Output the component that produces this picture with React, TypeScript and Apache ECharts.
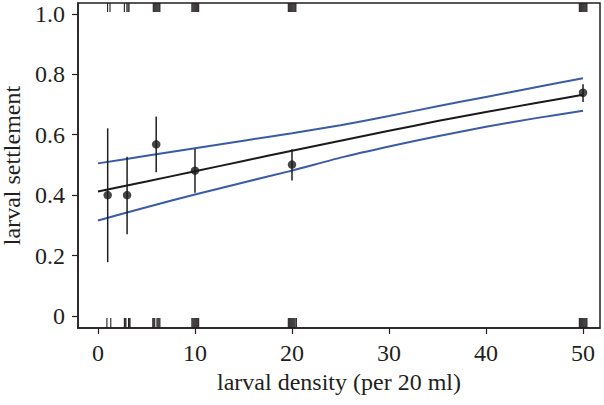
import React, { useEffect, useRef } from "react";
import * as echarts from "echarts";

// x tick labels and y tick labels
const xTicks = [0, 10, 20, 30, 40, 50];
const yTicks = [0, 0.2, 0.4, 0.6, 0.8, 1.0];

// observed means with error bars
const densities = [1, 3, 6, 10, 20, 50];
const means = [0.4, 0.4, 0.568, 0.481, 0.501, 0.739];
const errLow = [0.178, 0.27, 0.476, 0.408, 0.448, 0.708];
const errHigh = [0.621, 0.527, 0.66, 0.553, 0.552, 0.767];

// fitted curve and confidence band
const fitX = [0, 5, 10, 15, 20, 25, 30, 35, 40, 45, 50];
const fitMean = [0.412, 0.445, 0.479, 0.513, 0.547, 0.58, 0.613, 0.645, 0.675, 0.704, 0.732];
const fitUpper = [0.505, 0.53, 0.555, 0.58, 0.605, 0.631, 0.662, 0.694, 0.725, 0.756, 0.787];
const fitLower = [0.316, 0.36, 0.402, 0.442, 0.481, 0.524, 0.561, 0.595, 0.626, 0.654, 0.679];

// rug of individual (jittered) outcomes: settled (top) and not settled (bottom)
const rugSettled = [
  0.99, 1.24,
  2.72, 2.98, 3.1, 3.2,
  5.7, 5.8, 5.9, 6.0, 6.1, 6.2, 6.3, 6.38,
  9.68, 9.78, 9.88, 9.98, 10.08, 10.18, 10.28, 10.38,
  19.62, 19.72, 19.82, 19.92, 20.02, 20.12, 20.22, 20.32, 20.4,
  49.62, 49.72, 49.82, 49.92, 50.02, 50.12, 50.22, 50.32, 50.4,
];
const rugNotSettled = [
  0.92, 1.32,
  2.72, 2.8, 2.88, 3.15, 3.22, 3.3,
  5.65, 5.75, 5.85, 6.08, 6.18, 6.28, 6.38,
  9.68, 9.78, 9.88, 9.98, 10.08, 10.18, 10.28, 10.38,
  19.62, 19.72, 19.82, 19.92, 20.02, 20.12, 20.22, 20.32, 20.45,
  49.62, 49.72, 49.82, 49.92, 50.02, 50.12, 50.22, 50.32, 50.4,
];

const FONT = "'Liberation Serif', 'DejaVu Serif', serif";
const INK = "#231f20";
const BLUE = "#3b5ba6";

export default function App() {
  const ref = useRef<HTMLDivElement>(null);
  useEffect(() => {
    if (!ref.current) return;
    const chart = echarts.init(ref.current, null, { renderer: "svg" });
    const rugItem = (top: boolean) => (params: any, api: any) => {
      const p = api.coord([api.value(0), 0]);
      const cs = params.coordSys;
      const y1 = top ? cs.y : cs.y + cs.height;
      const y2 = top ? y1 + 9 : y1 - 10;
      return {
        type: "line",
        shape: { x1: p[0], y1, x2: p[0], y2 },
        style: { stroke: INK, lineWidth: 1.1 },
      };
    };
    chart.setOption({
      animation: false,
      grid: {
        left: 78,
        right: 4,
        top: 3,
        bottom: 77,
        show: true,
        borderColor: INK,
        borderWidth: 1.5,
        containLabel: false,
        outerBoundsMode: "none",
      },
      xAxis: {
        type: "value",
        min: -2.06,
        max: 51.75,
        name: "larval density (per 20 ml)",
        nameLocation: "middle",
        nameGap: 40,
        nameTextStyle: { fontFamily: FONT, fontSize: 24, color: INK },
        axisLine: { show: true, onZero: false, lineStyle: { color: INK, width: 1.5 } },
        axisTick: { show: true, length: 6, customValues: xTicks, lineStyle: { color: INK, width: 1.2 } },
        axisLabel: {
          customValues: xTicks,
          margin: 13,
          fontFamily: FONT,
          fontSize: 24,
          color: INK,
        },
        splitLine: { show: false },
      },
      yAxis: {
        type: "value",
        min: -0.04,
        max: 1.036,
        name: "larval settlement",
        nameLocation: "middle",
        nameGap: 50,
        nameTextStyle: { fontFamily: FONT, fontSize: 24, color: INK },
        axisLine: { show: true, onZero: false, lineStyle: { color: INK, width: 1.5 } },
        axisTick: { show: true, length: 6, customValues: yTicks, lineStyle: { color: INK, width: 1.2 } },
        axisLabel: {
          customValues: yTicks,
          margin: 13,
          fontFamily: FONT,
          fontSize: 24,
          color: INK,
          formatter: (v: number) => (v === 0 ? "0" : v.toFixed(1)),
        },
        splitLine: { show: false },
      },
      series: [
        {
          type: "line",
          data: fitX.map((x, i) => [x, fitUpper[i]]),
          showSymbol: false,
          smooth: 0.2,
          lineStyle: { color: BLUE, width: 2 },
          z: 2,
        },
        {
          type: "line",
          data: fitX.map((x, i) => [x, fitLower[i]]),
          showSymbol: false,
          smooth: 0.2,
          lineStyle: { color: BLUE, width: 2 },
          z: 2,
        },
        {
          type: "line",
          data: fitX.map((x, i) => [x, fitMean[i]]),
          showSymbol: false,
          smooth: 0.2,
          lineStyle: { color: "#1a1a1a", width: 2 },
          z: 3,
        },
        {
          type: "custom",
          data: densities.map((x, i) => [x, errLow[i], errHigh[i]]),
          encode: { x: 0, y: [1, 2] },
          renderItem: (params: any, api: any) => {
            const a = api.coord([api.value(0), api.value(1)]);
            const b = api.coord([api.value(0), api.value(2)]);
            return {
              type: "line",
              shape: { x1: a[0], y1: a[1], x2: b[0], y2: b[1] },
              style: { stroke: "#1f1f1f", lineWidth: 1.5 },
            };
          },
          z: 4,
        },
        {
          type: "scatter",
          data: densities.map((x, i) => [x, means[i]]),
          symbol: "circle",
          symbolSize: 8.5,
          itemStyle: { color: "#1a1a1a" },
          z: 5,
        },
        {
          type: "custom",
          data: rugSettled.map((x) => [x, 1]),
          encode: { x: 0, y: 1 },
          renderItem: rugItem(true),
          z: 6,
        },
        {
          type: "custom",
          data: rugNotSettled.map((x) => [x, 0]),
          encode: { x: 0, y: 1 },
          renderItem: rugItem(false),
          z: 6,
        },
      ],
    });
    return () => chart.dispose();
  }, []);
  return <div ref={ref} style={{ width: 604, height: 405, position: "absolute", left: 0, top: 0 }} />;
}
